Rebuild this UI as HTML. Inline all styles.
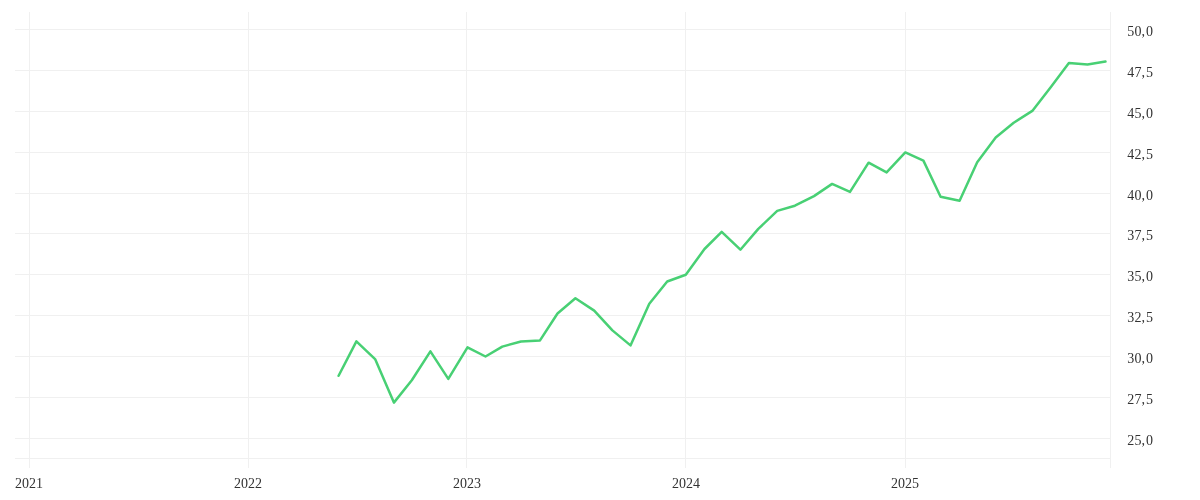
<!DOCTYPE html>
<html><head><meta charset="utf-8"><style>
html,body{margin:0;padding:0;background:#fff;width:1200px;height:500px;overflow:hidden}
svg{display:block}
text{font-family:"Liberation Serif",serif;font-size:14px;fill:#333}
</style></head><body>
<svg style="will-change:transform" width="1200" height="500" viewBox="0 0 1200 500">
<rect x="15" y="29" width="1095" height="1" fill="#f0f0f0"/>
<rect x="15" y="70" width="1095" height="1" fill="#f0f0f0"/>
<rect x="15" y="111" width="1095" height="1" fill="#f0f0f0"/>
<rect x="15" y="152" width="1095" height="1" fill="#f0f0f0"/>
<rect x="15" y="193" width="1095" height="1" fill="#f0f0f0"/>
<rect x="15" y="233" width="1095" height="1" fill="#f0f0f0"/>
<rect x="15" y="274" width="1095" height="1" fill="#f0f0f0"/>
<rect x="15" y="315" width="1095" height="1" fill="#f0f0f0"/>
<rect x="15" y="356" width="1095" height="1" fill="#f0f0f0"/>
<rect x="15" y="397" width="1095" height="1" fill="#f0f0f0"/>
<rect x="15" y="438" width="1095" height="1" fill="#f0f0f0"/>
<rect x="15" y="458" width="1095" height="1" fill="#f0f0f0"/>
<rect x="29" y="12" width="1" height="456" fill="#f0f0f0"/>
<rect x="248" y="12" width="1" height="456" fill="#f0f0f0"/>
<rect x="466" y="12" width="1" height="456" fill="#f0f0f0"/>
<rect x="685" y="12" width="1" height="456" fill="#f0f0f0"/>
<rect x="905" y="12" width="1" height="456" fill="#f0f0f0"/>
<rect x="1110" y="12" width="1" height="456" fill="#f0f0f0"/>
<path d="M338.60,375.80 L356.40,341.40 L375.10,359.10 L393.90,402.60 L411.80,380.30 L430.40,351.40 L448.30,378.90 L467.50,347.40 L485.50,356.50 L502.30,346.60 L521.00,341.50 L540.00,340.40 L557.50,313.50 L575.40,298.30 L594.20,310.60 L612.40,330.40 L630.50,345.40 L649.30,303.70 L667.20,281.50 L685.80,274.80 L704.50,249.00 L721.70,231.90 L740.40,249.70 L758.30,228.90 L777.20,210.90 L794.90,205.70 L814.00,196.10 L832.10,183.90 L850.00,191.90 L868.60,162.70 L886.60,172.40 L905.30,152.40 L923.40,160.60 L940.60,196.80 L959.60,200.80 L977.20,162.20 L995.70,137.50 L1013.70,122.80 L1032.30,110.90 L1050.90,86.90 L1068.90,62.90 L1087.50,64.40 L1105.50,61.60" fill="none" stroke="#48d074" stroke-width="2.5" stroke-linejoin="round" stroke-linecap="round"/>
<text x="1127.3 1134.6 1141.6 1146" y="36">50,0</text>
<text x="1127.3 1134.6 1141.6 1146" y="77">47,5</text>
<text x="1127.3 1134.6 1141.6 1146" y="118">45,0</text>
<text x="1127.3 1134.6 1141.6 1146" y="159">42,5</text>
<text x="1127.3 1134.6 1141.6 1146" y="200">40,0</text>
<text x="1127.3 1134.6 1141.6 1146" y="240">37,5</text>
<text x="1127.3 1134.6 1141.6 1146" y="281">35,0</text>
<text x="1127.3 1134.6 1141.6 1146" y="322">32,5</text>
<text x="1127.3 1134.6 1141.6 1146" y="363">30,0</text>
<text x="1127.3 1134.6 1141.6 1146" y="404">27,5</text>
<text x="1127.3 1134.6 1141.6 1146" y="445">25,0</text>
<text x="15" y="488">2021</text>
<text x="234" y="488">2022</text>
<text x="453" y="488">2023</text>
<text x="672" y="488">2024</text>
<text x="891" y="488">2025</text>
</svg>
</body></html>
